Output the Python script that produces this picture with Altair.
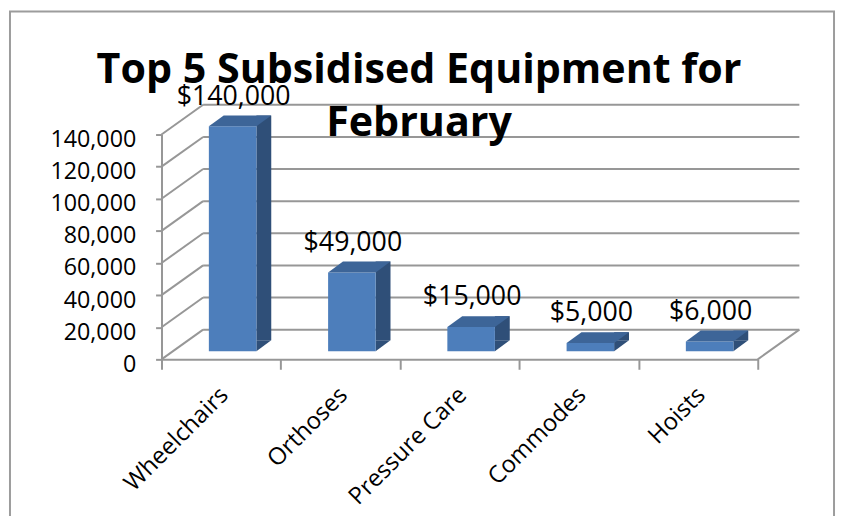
import altair as alt
import pandas as pd

# ---- data ----
categories = ["Wheelchairs", "Orthoses", "Pressure Care", "Commodes", "Hoists"]
values = [140000, 49000, 15000, 5000, 6000]
y_ticks = [0, 20000, 40000, 60000, 80000, 100000, 120000, 140000]
title_lines = ["Top 5 Subsidised Equipment for", "February"]

# ---- geometry / style ----
W, H = 602, 227           # front frame of the plot
DX, DY = 42, -30          # depth of the back wall (pixels)
BAR_W = 48                # bar front-face width
BX, BY = 11.6, -8.3       # bars sit part-way into the depth
SDX, SDY = 15, -11        # bar depth
GRID = "#979797"
FRONT = "#4d7ebb"
SIDE = "#2f4f78"
TOP = "#3d6598"
BORDER = "#9c9c9c"
FONT = "Open Sans"

bars = pd.DataFrame({"cat": categories, "value": values})
grid = pd.DataFrame({"v": y_ticks})
one = pd.DataFrame({"a": [0]})

x_axis = alt.Axis(
    title=None, labelAngle=-45, labelAlign="right", labelBaseline="middle",
    labelFont=FONT, labelFontSize=24, labelColor="black", labelPadding=22,
    labelOffset=3,
    tickBand="extent", tickSize=10, tickColor=GRID, tickWidth=2,
    domainColor=GRID, domainWidth=2, labelOverlap=False, grid=False, zindex=1,
)
y_axis = alt.Axis(
    title=None, values=y_ticks, labelExpr="format(datum.value, ',')",
    labelFont=FONT, labelFontSize=23.5,
    labelColor="black", labelPadding=20, labelBaseline="middle", labelOffset=5,
    tickSize=6, tickColor=GRID, tickWidth=2, domainColor=GRID, domainWidth=2,
    grid=False, zindex=1,
)
y_scale = alt.Scale(domain=[0, 140000], nice=False, zero=True)
x_scale = alt.Scale(paddingInner=0, paddingOuter=0)


def X():
    return alt.X("cat:N", sort=categories, scale=x_scale, axis=x_axis)


def Y(field):
    return alt.Y(field, type="quantitative", scale=y_scale, axis=y_axis)


back_grid = alt.Chart(grid).mark_rule(color=GRID, strokeWidth=2, yOffset=DY).encode(
    y=Y("v"), x=alt.value(DX), x2=alt.value(W + DX),
)
diag = alt.Chart(grid).mark_rule(color=GRID, strokeWidth=2, y2Offset=DY).encode(
    y=Y("v"), y2="v", x=alt.value(0), x2=alt.value(DX),
)
floor_right = alt.Chart(one).mark_rule(color=GRID, strokeWidth=2, y2Offset=DY).encode(
    y=Y("a"), y2="a", x=alt.value(W), x2=alt.value(W + DX),
)

base = alt.Chart(bars).transform_calculate(zero="0")

side = base.mark_bar(
    size=SDX, xOffset=BX + BAR_W / 2 + SDX / 2, yOffset=BY + SDY, y2Offset=BY + SDY, color=SIDE
).encode(x=X(), y=Y("value"), y2="zero:Q")

side_foot = base.mark_point(
    shape="M-1,0.733L-1,-0.733L1,-0.733Z", size=SDX * SDX, filled=True, opacity=1,
    strokeWidth=0, color=SIDE, xOffset=BX + BAR_W / 2 + SDX / 2, yOffset=BY + SDY / 2,
).encode(x=X(), y=Y("zero"))

front = base.mark_bar(
    size=BAR_W, xOffset=BX, yOffset=BY, y2Offset=BY, color=FRONT
).encode(x=X(), y=Y("value"), y2="zero:Q")

r = (BAR_W + SDX) / 2
ux = (BAR_W - r) / r
uy = (-SDY / 2) / r
top_path = f"M-1,{uy:.4f}L{ux:.4f},{uy:.4f}L1,{-uy:.4f}L{-ux:.4f},{-uy:.4f}Z"
top = base.mark_point(
    shape=top_path, size=(BAR_W + SDX) ** 2, filled=True, opacity=1, strokeWidth=0,
    color=TOP, xOffset=BX - BAR_W / 2 + r, yOffset=BY + SDY / 2,
).encode(x=X(), y=Y("value"))

labels = base.mark_text(
    font=FONT, fontSize=27, color="black", baseline="alphabetic", align="center",
    dx=BX + 1, dy=BY - 22,
).encode(x=X(), y=Y("value"), text=alt.Text("value:Q", format="$,"))

border = alt.Chart(one).mark_rect(fillOpacity=0, stroke=BORDER, strokeWidth=2).encode(
    x=alt.value(-153), x2=alt.value(W + 77), y=alt.value(-124.3), y2=alt.value(H + 200)
)

chart = alt.layer(
    back_grid, diag, floor_right, side, side_foot, front, top, labels, border
).properties(
    width=W, height=H,
    padding={"left": 155, "top": 125.3, "right": 79, "bottom": 156},
    autosize=alt.AutoSizeParams(type="none"),
    background="white",
    title=alt.Title(
        text=title_lines, font=FONT, fontSize=41.6, fontWeight="bold", color="black",
        lineHeight=53.5, anchor="middle", frame="group", baseline="alphabetic",
        offset=0, dx=-41, dy=168.5,
    ),
).configure_view(stroke=None)

chart.save("out.html", embed_options={"renderer": "svg", "actions": False})
